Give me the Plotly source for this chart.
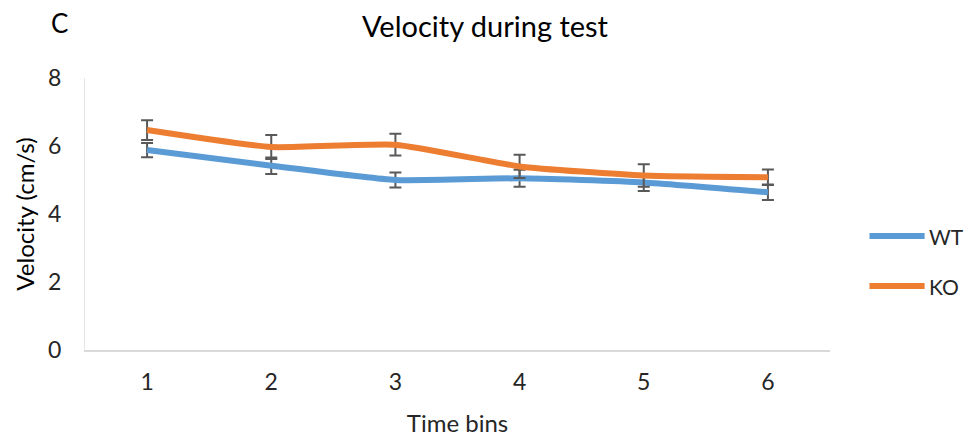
import plotly.graph_objects as go

time_bins = ["1", "2", "3", "4", "5", "6"]
wt_values = [5.88, 5.42, 5.00, 5.05, 4.93, 4.64]
wt_errors = [0.21, 0.24, 0.22, 0.25, 0.25, 0.23]
ko_values = [6.47, 5.97, 6.04, 5.40, 5.13, 5.08]
ko_errors = [0.29, 0.35, 0.32, 0.34, 0.33, 0.23]
y_ticks = [0, 2, 4, 6, 8]
series_names = ["WT", "KO"]
series_colors = ["#5B9BD5", "#ED7D31"]

FONT = "Lato, Open Sans, sans-serif"
ERR = "#595959"
TXT = "#262626"

fig = go.Figure()
for name, vals, errs, col in zip(series_names, [wt_values, ko_values],
                                 [wt_errors, ko_errors], series_colors):
    fig.add_trace(go.Scatter(
        x=time_bins, y=vals, name=name, mode="lines", showlegend=False,
        line=dict(color=col, width=6, shape="spline", smoothing=0.5),
        error_y=dict(type="data", array=errs, visible=True, color=ERR, thickness=2, width=6),
    ))

fig.update_layout(
    width=968, height=439,
    margin=dict(l=85, r=138, t=78, b=89),
    paper_bgcolor="white", plot_bgcolor="white",
    font=dict(family=FONT, size=23, color=TXT),
    title=dict(text="Velocity during test", x=0.501, xref="container", xanchor="center",
               y=0.938, yref="container", yanchor="middle", font=dict(size=29, color="#000000")),
    xaxis=dict(
        type="category", range=[-0.5, 5.5], showgrid=False, zeroline=False, automargin=False,
        showline=True, linecolor="#D9D9D9", linewidth=2,
        ticks="outside", ticklen=10, tickcolor="rgba(0,0,0,0)",
        tickfont=dict(size=23, color=TXT),
        title=dict(text="Time bins", font=dict(size=24, color=TXT), standoff=22),
    ),
    yaxis=dict(
        range=[0, 8], tickvals=y_ticks, showgrid=False, zeroline=False, automargin=False,
        showline=True, linecolor="#E6E6E6", linewidth=1,
        ticks="outside", ticklen=18, tickcolor="rgba(0,0,0,0)",
        tickfont=dict(size=23, color=TXT),
        title=dict(text="Velocity (cm/s)", font=dict(size=24, color="#000000"), standoff=6),
    ),
    showlegend=False,
)

# Legend drawn to match the reference's long legend keys
legend_y = [0.419, 0.235]
for name, col, ly in zip(series_names, series_colors, legend_y):
    fig.add_shape(type="line", xref="paper", yref="paper", x0=1.053, x1=1.127, y0=ly, y1=ly,
                  line=dict(color=col, width=6), layer="above")
    fig.add_annotation(text=name, xref="paper", yref="paper", x=1.13, y=ly,
                       xanchor="left", yanchor="middle", showarrow=False,
                       font=dict(size=21, color=TXT))

fig.add_annotation(text="C", xref="paper", yref="paper", x=-0.034, y=1.203,
                   xanchor="center", yanchor="middle", showarrow=False,
                   font=dict(size=26, color="#000000"))

fig.write_html("out.html", config={"displayModeBar": False},
               post_script="document.body.style.margin='0';document.body.style.overflow='hidden';")
